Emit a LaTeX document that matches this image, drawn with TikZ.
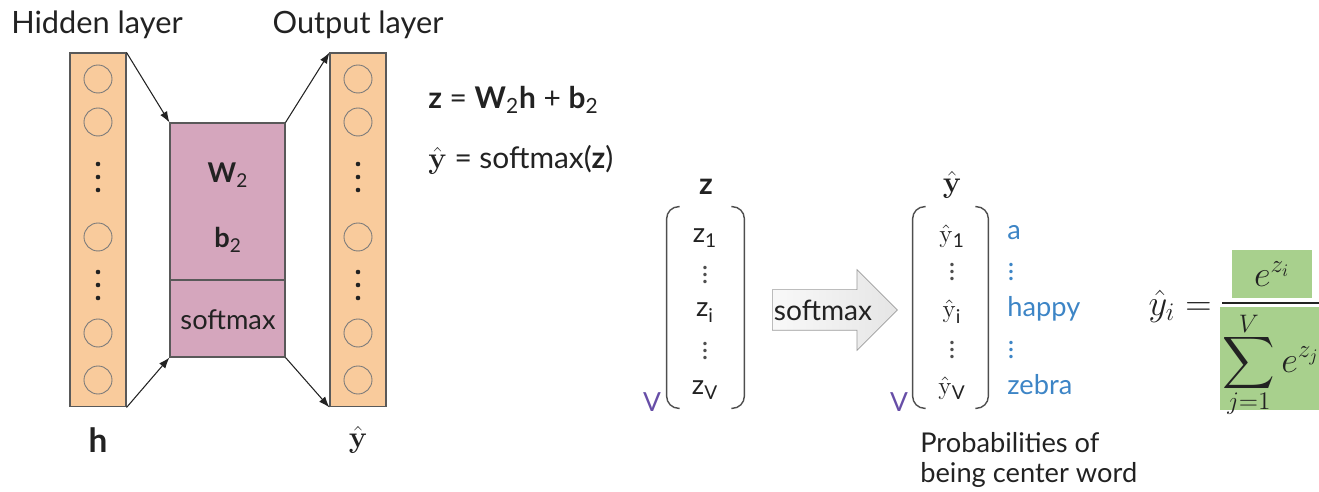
\documentclass[tikz,border=0pt]{standalone}
\usepackage[no-math]{fontspec}
\setmainfont{Lato}
\usepackage{amsmath}
\usetikzlibrary{positioning,arrows.meta,shapes.arrows}
\definecolor{ink}{HTML}{222222}
\definecolor{neuronfill}{HTML}{F9CB9C}
\definecolor{weightfill}{HTML}{D5A6BD}
\definecolor{probfill}{HTML}{A8D08D}
\definecolor{wordblue}{HTML}{3D85C6}
\definecolor{dimpurple}{HTML}{674EA7}
\tikzset{
  flowarrow/.style={-{Latex[length=2.2mm,width=1.6mm]}, draw=ink, line width=0.6pt},
  layercol/.style={draw=ink!75, fill=neuronfill, line width=0.6pt, minimum width=1.12cm, minimum height=7.08cm, inner sep=0pt},
  neuron/.style={circle, draw=ink!60, line width=0.5pt, minimum size=0.56cm, inner sep=0pt},
  weightbox/.style={draw=ink!75, fill=weightfill, line width=0.6pt, minimum width=2.3cm, inner sep=0pt},
  brack/.style={draw=ink!80, line width=0.8pt, rounded corners=0.24cm},
  vecbox/.style={minimum height=4.02cm, inner sep=0pt},
  bigtext/.style={font=\fontsize{17.5}{21}\selectfont},
  midtext/.style={font=\fontsize{15.5}{18}\selectfont},
  eqtext/.style={font=\fontsize{17}{20}\selectfont, anchor=west, inner sep=0pt},
  entry/.style={font=\fontsize{15.5}{18}\selectfont, anchor=base},
  wordlabel/.style={font=\fontsize{15.5}{18}\selectfont, text=wordblue, anchor=base west, inner sep=0pt},
  dimlabel/.style={font=\fontsize{15}{18}\selectfont, text=dimpurple, anchor=base},
  greenbox/.style={fill=probfill, inner sep=0pt, font=\fontsize{20}{24}\selectfont}
}

\begin{document}
\begin{tikzpicture}[x=0.02cm, y=-0.02cm, every node/.style={text=ink}]
  \useasboundingbox (0,0) rectangle (1319,492);

  % hidden and output layers
  \node[bigtext] (hidlab) at (97,25) {Hidden layer};
  \node[bigtext] (outlab) at (358,25) {Output layer};
  \foreach \cx/\nm in {98/h, 358/y} {
    \node[layercol] (\nm col) at (\cx,230) {};
    \foreach \cy in {79,122,237,333,380}
      \node[neuron] (\nm-\cy) at (\cx,\cy) {};
    \foreach \cy in {164,177,190,272,285,298}
      \fill[ink] (\cx,\cy) circle (1.3pt);
  }
  \node[font=\fontsize{19}{22}\selectfont\bfseries] (hlab) at (98,440) {h};
  \node[font=\fontsize{19}{22}\selectfont] (yhlab) at (358,440) {$\hat{\mathbf{y}}$};

  % weights + softmax block
  \node[weightbox, minimum height=3.14cm] (wbox) at (227.5,201.5) {};
  \node[weightbox, minimum height=1.54cm] (smbox) at (227.5,318.5) {};
  \node[midtext] (w2) at (228,175) {\textbf{W}\textsubscript{2}};
  \node[midtext] (b2) at (228,240) {\textbf{b}\textsubscript{2}};
  \node[midtext] (smtxt) at (228,320) {softmax};
  \draw[flowarrow] (hcol.north east) -- (wbox.north west);
  \draw[flowarrow] (hcol.south east) -- (smbox.south west);
  \draw[flowarrow] (wbox.north east) -- (ycol.north west);
  \draw[flowarrow] (smbox.south east) -- (ycol.south west);

  % equations
  \node[eqtext] (eqz) at (428,100)
    {\textbf{z} = \textbf{W}\textsubscript{2}\textbf{h} + \textbf{b}\textsubscript{2}};
  \node[eqtext] (eqy) at (428,160)
    {$\hat{\mathbf{y}}$ = softmax(\textbf{z})};

  % z vector
  \node[font=\fontsize{17}{20}\selectfont\bfseries] (zlab) at (706,187) {z};
  \node[vecbox, minimum width=1.54cm] (zvec) at (705.5,307.5) {};
  \draw[brack] ([xshift=0.26cm]zvec.north west) -| (zvec.west) |- ([xshift=0.26cm]zvec.south west);
  \draw[brack] ([xshift=-0.26cm]zvec.north east) -| (zvec.east) |- ([xshift=-0.26cm]zvec.south east);
  \node[entry] (z1) at (705,243) {z\textsubscript{1}};
  \node[midtext, text=ink!80] (zd1) at (705,270) {$\vdots$};
  \node[entry] (zi) at (705,317) {z\textsubscript{i}};
  \node[midtext, text=ink!80] (zd2) at (705,346) {$\vdots$};
  \node[entry] (zV) at (705,395) {z\textsubscript{V}};
  \node[dimlabel] (zdim) at (652,412) {V};

  % softmax arrow
  \node[single arrow, draw=ink!45, left color=gray!5, right color=gray!20,
        minimum height=2.5cm, minimum width=1.6cm, single arrow head extend=0.4cm,
        inner xsep=0pt, inner ysep=0.4cm, anchor=tail] (smarrow) at (772,310) {};
  \node[font=\fontsize{16}{19}\selectfont] (smlab) at (823,310) {softmax};

  % y-hat vector
  \node[font=\fontsize{17}{20}\selectfont] (yvlab) at (952,185) {$\hat{\mathbf{y}}$};
  \node[vecbox, minimum width=1.5cm] (yvec) at (950.5,307.5) {};
  \draw[brack] ([xshift=0.26cm]yvec.north west) -| (yvec.west) |- ([xshift=0.26cm]yvec.south west);
  \draw[brack] ([xshift=-0.26cm]yvec.north east) -| (yvec.east) |- ([xshift=-0.26cm]yvec.south east);
  \node[entry] (y1) at (952,243) {$\hat{\mathrm{y}}$\textsubscript{1}};
  \node[midtext, text=ink!80] (yd1) at (952,267) {$\vdots$};
  \node[entry] (yi) at (952,318) {$\hat{\mathrm{y}}$\textsubscript{i}};
  \node[midtext, text=ink!80] (yd2) at (952,345) {$\vdots$};
  \node[entry] (yV) at (952,395) {$\hat{\mathrm{y}}$\textsubscript{V}};
  \node[dimlabel] (ydim) at (899,412) {V};

  % words
  \node[wordlabel] (wa) at (1007,240) {a};
  \node[midtext, text=wordblue] (wd1) at (1011,267) {$\vdots$};
  \node[wordlabel] (whappy) at (1007,317) {happy};
  \node[midtext, text=wordblue] (wd2) at (1011,345) {$\vdots$};
  \node[wordlabel] (wzebra) at (1007,395) {zebra};
  \node[font=\fontsize{15.5}{17}\selectfont, anchor=north west, align=left, inner sep=0pt] (problab) at (920,432)
    {Probabilities of\\being center word};

  % softmax formula
  \node[font=\fontsize{20}{24}\selectfont, anchor=east, inner sep=0pt] (yhi) at (1212,306) {$\hat{y}_i =$};
  \node[greenbox, minimum width=1.6cm, minimum height=0.96cm] (num) at (1272,274) {$e^{z_i}$};
  \node[greenbox, minimum width=2.04cm, minimum height=2.06cm] (den) at (1271,358.5)
    {\raisebox{-8pt}[0pt][0pt]{$\displaystyle\sum_{\smash{\raisebox{3pt}{$\scriptstyle j=1$}}}^{\smash{\raisebox{-3pt}{$\scriptstyle V$}}} e^{z_j}$}};
  \coordinate (fracL) at (1222,303);
  \coordinate (fracR) at (1319,303);
  \draw[ink, line width=1.1pt] (fracL) -- (fracR);
\end{tikzpicture}
\end{document}
